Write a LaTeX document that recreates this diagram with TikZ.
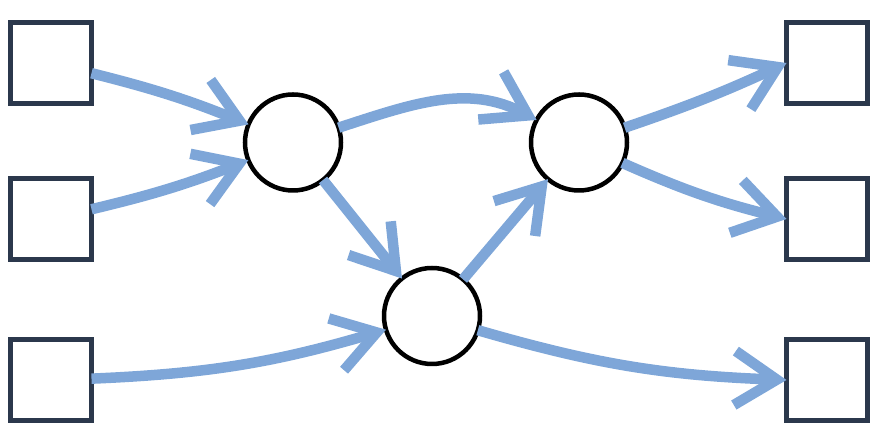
\documentclass[tikz,border=0pt]{standalone}
\usetikzlibrary{arrows.meta}
\definecolor{flow}{RGB}{126,166,216}
\definecolor{boxline}{RGB}{43,56,76}
\begin{document}
\begin{tikzpicture}[x=1pt,y=1pt,
  sq/.style={draw=boxline,line width=5pt,minimum size=81pt,inner sep=0pt,outer sep=0pt,fill=white},
  circ/.style={circle,draw=black,line width=4.5pt,minimum size=96pt,inner sep=0pt,outer sep=0pt,fill=white},
  flowarrow/.style={draw=flow,line width=10.5pt,-{Straight Barb[length=42pt,width=54pt,line width=10.5pt,line cap=butt,line join=miter]}}]
\useasboundingbox (0,0) rectangle (879,443);
\node[sq] (s1) at (51,380) {};
\node[sq] (s2) at (51,224) {};
\node[sq] (s3) at (51,62.5) {};
\node[sq] (r1) at (827,380) {};
\node[sq] (r2) at (827,224) {};
\node[sq] (r3) at (827,63) {};
\node[circ] (c1) at (293,300.5) {};
\node[circ] (c2) at (579,300.5) {};
\node[circ] (c3) at (432,127) {};
\draw[flowarrow] (s1) to[bend left=4] (c1);
\draw[flowarrow] (s2) to[bend right=4] (c1);
\draw[flowarrow] (c1) to[out=18,in=152] (c2);
\draw[flowarrow] (c1) -- (c3);
\draw[flowarrow] (c3) -- (c2);
\draw[flowarrow] (c2) to[bend right=3] (r1.west);
\draw[flowarrow] (c2) to[bend right=5] (r2.west);
\draw[flowarrow] (s3) to[bend right=7] (c3);
\draw[flowarrow] (c3) to[bend right=7] (r3.west);
\end{tikzpicture}
\end{document}
